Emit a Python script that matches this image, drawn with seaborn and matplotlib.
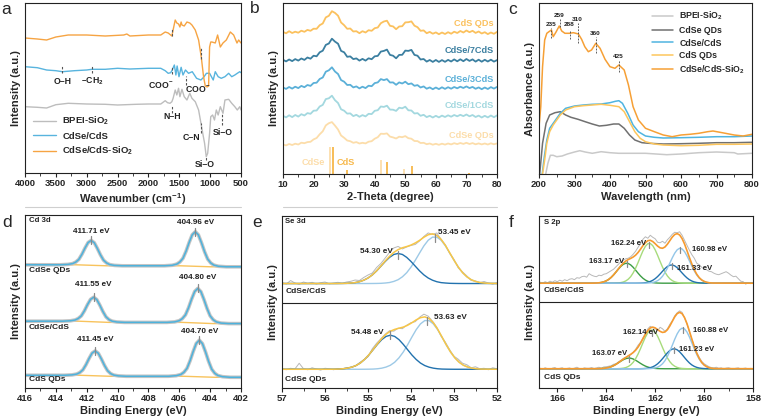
import numpy as np
import matplotlib
matplotlib.use("Agg")
import matplotlib.pyplot as plt
import matplotlib.patheffects as pe
from matplotlib.lines import Line2D
from matplotlib.ticker import MultipleLocator
import seaborn as sns

# ---------------- (a) FTIR ----------------
ftir_wn_bpei = [4000, 3800, 3650, 3500, 3300, 3000, 2700, 2500, 2200, 2000, 1800, 1728, 1690, 1650, 1620, 1600,
                1566, 1540, 1512, 1490, 1457, 1420, 1376, 1330, 1295, 1241, 1187, 1144, 1120, 1090, 1063, 1040,
                1009, 990, 960, 930, 900, 870, 835, 792, 760, 700, 650, 600, 560, 520, 500]
ftir_bpei = [66.3, 65.7, 65, 68.3, 69.7, 69, 68.7, 68, 68.7, 69, 69, 72.3, 70.3, 69.7, 71.3, 74.7,
             83, 78, 84.7, 76.3, 83.7, 76.3, 73, 79.7, 74.7, 71.3, 63, 48, 39.7, 29.7, 16.3, 19.7,
             39.7, 56.3, 58, 53, 63, 58, 66.3, 59.7, 73, 73.7, 69.7, 66.3, 63, 66.3, 63]
ftir_wn_cdse = [4000, 3800, 3650, 3500, 3394, 3200, 3000, 2918, 2700, 2500, 2300, 2000, 1800, 1728, 1680, 1640,
                1620, 1580, 1555, 1535, 1505, 1470, 1440, 1400, 1350, 1290, 1220, 1150, 1106, 1060, 1009, 950,
                917, 870, 820, 760, 700, 650, 600, 560, 520, 500]
ftir_cdse = [106.3, 105.3, 103, 102.3, 101.3, 102.3, 103, 103.7, 103.7, 104.7, 104, 104.7, 104.7, 102.3, 99.7, 100.3,
             102.3, 108, 98, 107, 96.3, 105.7, 98, 103, 99.7, 101.3, 94.7, 93, 95.7, 99.7, 99.7, 93,
             101.3, 96.3, 94.7, 96.3, 99.7, 96.3, 98, 99.7, 101.3, 100.3]
ftir_wn_sio2 = [4000, 3800, 3650, 3500, 3300, 3000, 2700, 2400, 2350, 2300, 2000, 1800, 1728, 1680, 1620, 1590,
                1566, 1540, 1512, 1490, 1470, 1457, 1420, 1376, 1330, 1295, 1241, 1187, 1144, 1106, 1079, 1050,
                1025, 1009, 990, 971, 917, 879, 835, 792, 738, 673, 619, 565, 538, 500]
ftir_sio2 = [135, 134, 133, 136, 138, 138, 137, 138, 139, 137, 138, 138, 141, 140, 137, 146,
             153, 150, 149, 146, 151, 148, 147, 151, 150, 148, 143, 133, 116, 96, 87, 86,
             87, 126, 131, 131, 130, 138, 126, 130, 133, 141, 138, 130, 133, 130]

# ---------------- (b) XRD ----------------
xrd_theta = list(range(10, 81))
xrd_names = ["CdS QDs", "CdSe/7CdS", "CdSe/3CdS", "CdSe/1CdS", "CdSe QDs"]
xrd_cds = [0.8, -0.6, 1.5, -0.3, 1.0, 0.0, 2.0, 0.9, 2.8, 1.9,
           4.0, 3.9, 7.5, 9.2, 15.3, 16.9, 21.5, 19.8, 17.0, 10.2,
           7.5, 3.9, 4.2, 1.2, 1.5, -0.5, 1.5, 0.2, 2.5, 1.9,
           4.5, 5.2, 9.5, 11.2, 12.0, 6.9, 6.3, 3.5, 6.2, 6.5,
           10.3, 10.5, 11.3, 7.0, 5.5, 1.9, 2.3, -0.5, 0.8, -1.0,
           0.3, -1.5, 0.2, -1.3, 0.5, -1.0, 1.0, -0.3, 1.7, 0.2,
           2.2, 0.5, 1.9, -0.2, 1.2, -0.8, 0.5, -1.4, 0.2, -1.1, 0.8]
xrd_7cds = [0.9, -0.7, 1.2, -0.4, 1.6, 0.1, 2.2, 0.8, 3.2, 2.0,
            5.0, 4.4, 8.4, 10.0, 15.8, 17.2, 22.0, 19.1, 17.0, 9.8,
            8.4, 3.9, 4.3, 1.6, 2.3, 0.1, 1.8, 0.1, 2.4, 1.5,
            4.4, 4.8, 9.1, 9.8, 11.1, 5.8, 5.0, 2.4, 5.8, 5.9,
            10.1, 9.8, 10.8, 5.8, 5.0, 1.2, 1.7, -0.9, 0.7, -1.2,
            0.7, -1.2, 0.6, -1.1, 0.8, -0.8, 1.3, -0.6, 1.4, -0.5,
            1.7, -0.2, 1.3, -0.9, 1.0, -1.0, 0.9, -0.8, 1.0, -0.9, 0.6]
xrd_3cds = [0.8, -0.6, 1.3, -0.3, 1.6, 0.2, 2.4, 1.1, 3.3, 2.4,
            5.3, 5.6, 9.3, 10.8, 16.6, 18.0, 21.0, 16.8, 14.3, 8.2,
            6.6, 3.3, 3.5, 0.9, 1.9, -0.1, 1.6, 0.2, 2.6, 2.1,
            5.2, 5.9, 9.2, 8.2, 9.2, 5.8, 5.9, 3.5, 5.9, 4.8,
            6.6, 4.1, 4.9, 2.5, 3.2, 0.8, 1.9, -0.4, 0.9, -0.9,
            0.8, -0.8, 1.0, -0.6, 1.1, -0.4, 1.3, 0.0, 1.6, 0.3,
            1.9, 0.2, 1.4, -0.5, 0.9, -0.9, 0.8, -0.7, 1.2, -0.3, 1.4]
xrd_1cds = [0.9, -0.7, 1.4, -0.4, 1.7, 0.1, 2.5, 1.2, 3.6, 2.9,
            6.0, 6.2, 10.2, 11.8, 17.6, 18.4, 21.0, 16.5, 13.7, 7.4,
            6.0, 3.1, 3.3, 0.6, 1.9, -0.1, 1.6, 0.3, 2.9, 2.6,
            5.9, 6.5, 10.2, 9.8, 11.0, 7.1, 7.0, 5.8, 9.0, 8.4,
            10.0, 6.4, 6.2, 3.2, 3.6, 0.9, 1.9, -0.4, 0.9, -0.8,
            0.9, -0.7, 1.1, -0.3, 1.4, 0.0, 1.7, 0.4, 1.9, 0.6,
            2.2, 0.4, 1.7, -0.3, 1.1, -0.8, 0.9, -0.7, 1.2, -0.5, 1.3]
xrd_cdse = [0.6, -0.4, 1.0, 0.0, 1.3, 0.5, 2.3, 1.8, 2.9, 3.2,
            5.6, 7.0, 10.7, 13.7, 19.6, 21.8, 22.9, 19.4, 15.5, 9.5,
            7.2, 4.5, 3.8, 2.2, 2.9, 1.5, 2.2, 1.6, 3.3, 3.8,
            6.3, 7.8, 11.3, 11.1, 11.6, 8.4, 7.6, 6.5, 8.3, 7.8,
            8.9, 6.8, 6.3, 4.0, 3.9, 2.0, 2.2, 0.8, 1.5, 0.3,
            1.2, 0.2, 1.3, 0.4, 1.5, 0.6, 1.8, 0.9, 2.0, 1.1,
            2.2, 1.0, 1.9, 0.7, 1.6, 0.6, 1.5, 0.5, 1.7, 0.7, 1.6]
ref_cdse_pos = [25.4, 42.0, 49.7]
ref_cdse_int = [26.7, 14, 5.3]
ref_cds_pos = [26.5, 30.8, 43.9, 52.1, 70.8]
ref_cds_int = [26.7, 4, 11.7, 8, 1.3]

# ---------------- (c) UV-vis ----------------
uv_wl_bpei = [219, 225, 232, 240, 250, 265, 280, 300, 315, 330, 350, 375, 400, 425, 500, 560, 600, 650, 700, 750, 760, 800]
uv_bpei = [0, 10.7, 18.7, 18.7, 17.3, 18, 20, 22, 23.3, 22, 20.7, 22.3, 21.3, 20.7, 20.7, 19.3, 20, 21.3, 22, 21.3, 20, 20.7]
uv_wl_cdse = [202, 210, 220, 230, 245, 260, 275, 290, 310, 330, 350, 370, 390, 410, 425, 440, 455, 470, 490, 510,
              550, 600, 650, 700, 750, 800]
uv_cdse = [0, 30.7, 50.7, 59, 61.3, 62.3, 59, 56.7, 54.7, 52.3, 50, 48, 48.7, 50, 50, 45.7, 39, 34, 31.3, 30.7,
           30, 30.3, 30.7, 31.3, 31.3, 31.7]
uv_wl_core = [209, 215, 222, 230, 240, 250, 260, 275, 300, 325, 350, 375, 400, 415, 425, 435, 450, 465, 480, 500,
              525, 550, 600, 650, 700, 750, 800]
uv_core = [0, 17.3, 34, 45.7, 50.7, 55.7, 60.7, 65.7, 68, 69, 69.7, 70, 71.3, 72.7, 73.3, 70.7, 60.7, 49, 42.3, 38,
           36.7, 36, 36.3, 36.7, 37.3, 37.3, 38]
uv_wl_cds = [210, 216, 222, 230, 240, 250, 260, 275, 300, 325, 350, 375, 400, 425, 440, 455, 470, 485, 500, 525,
             550, 600, 650, 700, 750, 800]
uv_cds = [0, 14, 30.7, 42.3, 49, 54, 59, 64, 67.3, 68.3, 69, 69.7, 68.7, 67.3, 62.3, 52.3, 42.3, 35.7, 32.3, 30,
          29, 28.3, 28.7, 29.7, 29.7, 30]
uv_wl_sio2 = [200, 205, 210, 216, 222, 228, 235, 240, 248, 257, 264, 273, 285, 297, 311, 320, 329, 339, 348, 360,
              372, 386, 400, 414, 425, 440, 452, 465, 480, 500, 525, 550, 575, 600, 625, 650, 675, 690, 710, 725,
              750, 775, 800]
uv_sio2 = [47.3, 67.3, 107.3, 134, 140.7, 142.3, 144, 137.3, 142, 148, 143, 140.7, 140.7, 141.3, 140, 134.7, 127.3,
           122.3, 124, 130.7, 125.7, 114.7, 107.3, 105.7, 109, 104, 89, 67.3, 54, 45.7, 42.3, 39, 37.3, 39, 39.7,
           40.7, 42.3, 43, 41.7, 40.7, 39, 38, 39.7]
uv_peaks = [235, 259, 288, 310, 360, 425]

# ---------------- (d) Cd 3d XPS ----------------
cd_names = ["CdSe QDs", "CdSe/CdS", "CdS QDs"]
cd_x = [
    [416, 413.71, 413.21, 412.91, 412.71, 412.51, 412.31, 412.11, 411.91, 411.71, 411.51, 411.31, 411.11, 410.91,
     410.71, 410.51, 410.21, 409.71, 406.96, 406.46, 406.16, 405.96, 405.76, 405.56, 405.36, 405.16, 404.96,
     404.76, 404.56, 404.36, 404.16, 403.96, 403.76, 403.46, 402.96, 402],
    [416, 413.55, 413.05, 412.75, 412.55, 412.35, 412.15, 411.95, 411.75, 411.55, 411.35, 411.15, 410.95, 410.75,
     410.55, 410.35, 410.05, 409.55, 406.8, 406.3, 406.0, 405.8, 405.6, 405.4, 405.2, 405.0, 404.8, 404.6, 404.4,
     404.2, 404.0, 403.8, 403.6, 403.3, 402.8, 402],
    [416, 413.45, 412.95, 412.65, 412.45, 412.25, 412.05, 411.85, 411.65, 411.45, 411.25, 411.05, 410.85, 410.65,
     410.45, 410.25, 409.95, 409.45, 406.7, 406.2, 405.9, 405.7, 405.5, 405.3, 405.1, 404.9, 404.7, 404.5, 404.3,
     404.1, 403.9, 403.7, 403.5, 403.2, 402.7, 402],
]
cd_fit = [
    [123, 123, 123.4, 124.2, 125.7, 128.4, 133.5, 139.7, 145.2, 147.3, 145, 139.3, 132.9, 127.6, 124.8, 123.2,
     122.4, 122, 122, 122.5, 123.7, 125.8, 129.5, 136.6, 145.3, 153, 156, 152.8, 144.9, 136, 128.7, 124.8, 122.7,
     121.5, 121, 121],
    [66.7, 66.7, 67.1, 67.9, 69.4, 72, 77, 83.2, 88.5, 90.6, 88.3, 82.7, 76.3, 71, 68.2, 66.7, 65.9, 65.5,
     65.5, 66, 67.2, 69.3, 73, 80.1, 88.8, 96.4, 99.4, 96.2, 88.3, 79.4, 72, 68.1, 66, 64.8, 64.3, 64.3],
    [12.7, 12.7, 13.1, 13.9, 15.4, 18.1, 23.2, 29.4, 34.9, 37, 34.7, 29, 22.6, 17.3, 14.4, 12.9, 12.1, 11.7,
     11.7, 12.3, 13.5, 15.7, 19.6, 27.2, 36.4, 44.5, 47.7, 44.3, 36, 26.6, 18.8, 14.7, 12.5, 11.3, 10.7, 10.7],
]
cd_bg_x = [[416, 412.7, 410.7, 405.96, 403.96, 402],
           [416, 412.55, 410.55, 405.8, 403.8, 402],
           [416, 412.45, 410.45, 405.7, 403.7, 402]]
cd_bg = [[123, 123, 122, 122, 121, 121],
         [66.7, 66.7, 65.5, 65.5, 64.3, 64.3],
         [12.7, 12.7, 11.7, 11.7, 10.7, 10.7]]
cd_peaks = [[("411.71 eV", 411.71, 147.3, 156.7), ("404.96 eV", 404.96, 156, 165.3)],
            [("411.55 eV", 411.55, 90.6, 103.5), ("404.80 eV", 404.80, 99.4, 110)],
            [("411.45 eV", 411.45, 37, 48.7), ("404.70 eV", 404.70, 47.7, 56.7)]]

# ---------------- (e) Se 3d XPS ----------------
se_x_top = [57.0, 55.8, 55.7, 55.6, 55.5, 55.4, 55.3, 55.2, 55.1, 55.0, 54.9, 54.8, 54.7, 54.6, 54.5, 54.4, 54.3,
            54.2, 54.1, 54.0, 53.9, 53.8, 53.7, 53.6, 53.5, 53.4, 53.3, 53.2, 53.1, 53.0, 52.9, 52.8, 52.7, 52.6,
            52.5, 52.4, 52.3, 52.2, 52.0]
se_x_bot = [57.0, 55.98, 55.88, 55.78, 55.68, 55.58, 55.48, 55.38, 55.28, 55.18, 55.08, 54.98, 54.88, 54.78, 54.68,
            54.58, 54.48, 54.38, 54.28, 54.18, 54.08, 53.98, 53.88, 53.78, 53.68, 53.58, 53.48, 53.38, 53.28, 53.18,
            53.08, 52.98, 52.88, 52.78, 52.68, 52.58, 52.48, 52.38, 52.0]
se_top_hi = [0, 0, 0.03, 0.1, 0.2, 0.5, 0.9, 1.8, 3.3, 5.5, 8.6, 12.6, 17.3, 22.0, 26.1, 29.0, 30.0, 29.0, 26.1,
             22.0, 17.3, 12.6, 8.6, 5.5, 3.3, 1.8, 0.9, 0.5, 0.2, 0.1, 0.03, 0, 0, 0, 0, 0, 0, 0, 0]
se_top_lo = [0, 0, 0, 0, 0, 0, 0, 0, 0, 0, 0.03, 0.08, 0.2, 0.5, 1.0, 2.1, 3.8, 6.7, 10.8, 16.4, 23.2, 30.5, 37.6,
             43.2, 46.3, 46.3, 43.2, 37.6, 30.5, 23.2, 16.4, 10.8, 6.7, 3.8, 2.1, 1.0, 0.5, 0.2, 0.03]
se_bot_hi = [0, 0, 0.03, 0.1, 0.2, 0.5, 1.1, 2.1, 3.7, 6.2, 9.8, 14.3, 19.6, 24.9, 29.6, 32.8, 34.0, 32.8, 29.6,
             24.9, 19.6, 14.3, 9.8, 6.2, 3.7, 2.1, 1.1, 0.5, 0.2, 0.1, 0.03, 0, 0, 0, 0, 0, 0, 0, 0]
se_bot_lo = [0, 0, 0, 0, 0, 0, 0, 0, 0, 0, 0.03, 0.09, 0.2, 0.5, 1.1, 2.2, 4.0, 7.0, 11.4, 17.2, 24.3, 32.1, 39.5,
             45.3, 48.6, 48.6, 45.3, 39.5, 32.1, 24.3, 17.2, 11.4, 7.0, 4.0, 2.2, 1.1, 0.5, 0.2, 0.0]
se_raw_x = np.linspace(57.0, 52.0, 51)
se_raw_top = [1.0, -0.5, 3.0, 0.5, -0.8, 1.5, 0.2, 1.2, -0.5, 0.8, 1.5, -0.3, 0.5, 1.2, 0.3, 1.5, 2.2, 3.5,
              3.0, 6.0, 8.5, 10.5, 16.0, 20.0, 25.5, 31.0, 35.5, 37.0, 34.5, 36.5, 38.0, 39.0, 42.5, 47.0,
              50.5, 49.0, 50.5, 44.0, 38.5, 30.0, 24.0, 15.5, 11.5, 7.5, 3.0, 2.5, 1.0, 2.0, 0.5, -0.5, 0.8]
se_raw_bot = [0.5, -0.5, 1.0, 0.3, 6.0, 0.5, -0.5, 1.5, 0.2, -0.8, 1.0, 0.5, -0.5, 0.8, 0.5, 1.5, 2.0, 3.0,
              6.5, 9.5, 12.5, 20.5, 26, 30.5, 35, 38.5, 38, 41, 40.5, 44, 46.5, 47.5, 52, 55,
              53, 48, 42, 33, 27, 19.5, 13, 10, 6, 4.5, 1.5, 2.5, 0.5, 1.0, -0.5, 1.5, 0.5]

# ---------------- (f) S 2p XPS ----------------
s_x_top = np.linspace(164.6, 159.6, 51)
s_x_bot = np.linspace(164.5, 159.5, 51)
s_top_163 = [0.04, 0.08, 0.18, 0.38, 0.74, 1.36, 2.34, 3.78, 5.8, 8.34, 11.22, 14.22, 16.94, 18.96, 19.94, 19.7,
             18.28, 15.92, 13.04, 10.04, 7.26, 4.92, 3.14, 1.9, 1.08, 0.56, 0.28, 0.12, 0.06] + [0] * 22
s_top_162 = [0] * 10 + [0.12, 0.28, 0.6, 1.2, 2.28, 4.0, 6.56, 10.28, 15.04, 20.64, 26.68, 32.4, 36.92, 39.56,
                        39.8, 37.6, 33.4, 27.88, 21.84, 16.12, 11.12, 7.24, 4.4, 2.56, 1.36, 0.68, 0.32, 0.16,
                        0.06] + [0] * 12
s_top_161 = [0] * 19 + [0.05, 0.11, 0.26, 0.51, 0.99, 1.74, 2.87, 4.5, 6.64, 9.19, 11.93, 14.57, 16.73, 18.03,
                        18.25, 17.35, 15.5, 13.01, 10.27, 7.63, 5.31, 3.46, 2.14, 1.24, 0.68, 0.35, 0.16, 0.07,
                        0.04, 0, 0, 0]
s_top_160 = [0] * 23 + [0.14, 0.35, 0.7, 1.37, 2.52, 4.31, 6.93, 10.57, 15.09, 20.2, 25.41, 30.07, 33.46, 34.97,
                        34.3, 31.64, 27.37, 22.3, 17.05, 12.25, 8.26, 5.22, 3.12, 1.75, 0.91, 0.46, 0.21, 0.11]
s_bot_163 = [0.02, 0.04, 0.1, 0.2, 0.4, 0.73, 1.25, 2.02, 3.1, 4.46, 6.0, 7.61, 9.06, 10.14, 10.67, 10.54, 9.78,
             8.52, 6.98, 5.37, 3.88, 2.63, 1.68, 1.02, 0.58, 0.3, 0.15, 0.06, 0.03] + [0] * 22
s_bot_162 = [0] * 10 + [0.12, 0.27, 0.59, 1.17, 2.22, 3.9, 6.4, 10.02, 14.66, 20.12, 26.01, 31.59, 36.0, 38.57,
                        38.81, 36.66, 32.57, 27.18, 21.29, 15.72, 10.84, 7.06, 4.29, 2.5, 1.33, 0.66, 0.31, 0.16,
                        0.06] + [0] * 12
s_bot_161 = [0] * 19 + [0.06, 0.12, 0.28, 0.56, 1.08, 1.9, 3.14, 4.92, 7.26, 10.04, 13.04, 15.92, 18.28, 19.7,
                        19.94, 18.96, 16.94, 14.22, 11.22, 8.34, 5.8, 3.78, 2.34, 1.36, 0.74, 0.38, 0.18, 0.08,
                        0.04, 0, 0, 0]
s_bot_160 = [0] * 23 + [0.16, 0.41, 0.81, 1.59, 2.93, 5.01, 8.06, 12.29, 17.54, 23.48, 29.55, 34.96, 38.91, 40.66,
                        39.89, 36.79, 31.83, 25.93, 19.82, 14.25, 9.61, 6.06, 3.62, 2.04, 1.06, 0.53, 0.24, 0.12]
s_raw_x = np.linspace(166.7, 158.0, 88)
s_raw_top = [1.0, 0.0, 1.5, 0.5, 2.0, 1.0, 2.5, 1.5, 3.0, 2.0, 3.5, 2.5, 4.0, 4.5, 3.5, 5.5, 5.0, 6.5, 7.0, 6.0,
             9.5, 8.0, 7.0, 6.5, 8.0, 7.5, 9.0, 9.5, 11.0, 12.5, 14.0, 16.5, 19.0, 21.5, 23.0, 24.5, 25.0, 26.5,
             29.0, 32.0, 36.0, 39.5, 44.0, 46.5, 45.0, 48.0, 46.0, 44.5, 41.0, 40.5, 42.0, 40.0, 43.5, 46.0, 49.0,
             51.0, 50.5, 51.5, 48.0, 43.0, 38.0, 33.0, 28.5, 25.0, 20.0, 18.5, 16.0, 14.0, 13.5, 12.0, 11.5, 10.0,
             9.0, 8.5, 9.5, 10.5, 11.5, 10.0, 8.0, 6.5, 7.0, 4.5, 2.0, 1.5, -1.0, 0.5, -0.5, 0.0]
s_raw_bot = [0.5, -0.5, 1.0, 0.0, -0.8, 0.6, 1.2, -0.3, 0.4, 1.0, -0.5, 0.3, 0.8, -0.2, 0.6, 1.5, 0.2, -0.4, 0.9,
             0.5, 0.5, 1.2, 0.3, 0.8, 1.5, 0.6, 1.8, 2.0, 2.5, 3.0, 4.5, 5.0, 7.0, 8.5, 10.5, 11.5, 13.0, 14.0,
             16.5, 19.5, 23.5, 26.5, 31.0, 35.5, 40.0, 42.5, 41.0, 40.5, 38.0, 41.5, 40.0, 37.5, 40.0, 44.5, 48.0,
             53.0, 56.0, 58.0, 56.5, 51.0, 45.0, 37.0, 29.5, 22.5, 16.0, 11.5, 7.5, 5.0, 3.5, 2.0, 1.2, 0.8, 1.5,
             0.4, 0.9, -0.3, 0.6, 1.0, 0.2, -0.2, 0.5, 0.9, -0.4, 0.3, 0.7, -0.2, 0.4, 0.1]

# ---------------- style ----------------
sns.set_theme(style="ticks")
plt.rcParams["font.family"] = ["Liberation Sans", "DejaVu Sans"]
plt.rcParams["font.weight"] = "bold"
plt.rcParams["axes.labelweight"] = "bold"
plt.rcParams["mathtext.fontset"] = "custom"
plt.rcParams["mathtext.rm"] = "Liberation Sans:bold"
plt.rcParams["mathtext.it"] = "Liberation Sans:bold"
plt.rcParams["mathtext.bf"] = "Liberation Sans:bold"
plt.rcParams["mathtext.default"] = "rm"

W, H = 762, 419
fig = plt.figure(figsize=(W / 100, H / 100), dpi=100)
fig.patch.set_facecolor("white")


def panel(l, t, r, b, xlim, ylim, major, minor, xlabel, ylabel):
    ax = fig.add_axes([l / W, 1 - b / H, (r - l) / W, (b - t) / H])
    ax.set_facecolor("white")
    ax.set_xlim(*xlim)
    ax.set_ylim(*ylim)
    ax.xaxis.set_major_locator(MultipleLocator(major))
    ax.xaxis.set_minor_locator(MultipleLocator(minor))
    ax.set_yticks([])
    ax.tick_params(axis="x", which="major", direction="out", length=3, width=0.8, labelsize=6.8, pad=1.5,
                   color="#222222")
    ax.tick_params(axis="x", which="minor", direction="out", length=1.8, width=0.6, color="#222222")
    for s in ax.spines.values():
        s.set_linewidth(0.8)
        s.set_color("#222222")
    ax.set_xlabel(xlabel, fontsize=8, labelpad=2)
    ax.set_ylabel(ylabel, fontsize=8, labelpad=3)
    return ax


def line(ax, x, y, color, lw=1.0, label=None, **kw):
    sns.lineplot(x=np.asarray(x, float), y=np.asarray(y, float), ax=ax, color=color, lw=lw, sort=False,
                 estimator=None, label=label, **kw)


def dash(ax, x, y0, y1, color="#555555", lw=0.8):
    ax.plot([x, x], [y0, y1], color=color, lw=lw, ls=(0, (2.2, 1.5)))


def tick_mark(ax, x, y, half=4, color="#8A8A8A"):
    ax.plot([x, x], [y - half, y + half], color=color, lw=0.9)


def note(ax, x, y, s, size=5.8, ha="center", color="#222222"):
    ax.text(x, y, s, fontsize=size, ha=ha, va="center", color=color, fontweight="bold")


# ---- (a)
ax = panel(25, 3, 241, 173, (4000, 500), (0, 170), 500, 250, "Wavenumber (cm$^{-1}$)", "Intensity (a.u.)")
line(ax, ftir_wn_bpei, ftir_bpei, "#BDBDBD", 1.0, "BPEI-SiO$_2$")
line(ax, ftir_wn_cdse, ftir_cdse, "#58B4DE", 1.0, "CdSe/CdS")
line(ax, ftir_wn_sio2, ftir_sio2, "#F6A443", 1.0, "CdSe/CdS-SiO$_2$")
for x, y0, y1 in [(1620, 137, 145), (1144, 114, 126), (3394, 100, 108), (2918, 100, 108), (1620, 99, 107),
                  (1393, 88, 97), (1620, 60, 67), (1144, 40, 50), (1063, 12.5, 17), (808, 48, 60)]:
    dash(ax, x, y0, y1)
note(ax, 3383, 92, "O–H", size=6.3)
note(ax, 2907, 92, "–CH$_2$", size=6.3)
note(ax, 1809, 87, "COO$^{-}$", size=6.3)
note(ax, 1203, 83.7, "COO$^{-}$", size=6.3)
note(ax, 1614, 56.3, "N–H", size=6.3)
note(ax, 1306, 36, "C–N", size=6.3)
note(ax, 1079, 8.7, "Si–O", size=6.3)
note(ax, 792, 40.7, "Si–O", size=6.3)
ax.legend(loc="lower left", bbox_to_anchor=(0.02, 0.07), frameon=False, fontsize=6.8, handlelength=2.4,
          labelspacing=0.45, borderaxespad=0, handletextpad=0.7)

# ---- (b)
ax = panel(283, 3, 497, 174, (10, 80), (0, 171), 10, 5, "2-Theta (degree)", "Intensity (a.u.)")
xrd_series = [xrd_cds, xrd_7cds, xrd_3cds, xrd_1cds, xrd_cdse]
xrd_colors = ["#FBC15E", "#3B7FA0", "#5BB0D8", "#A3D8DF", "#FCDDAA"]
xrd_offsets = [141.3, 113.3, 85.7, 57.3, 29]
xrd_label_y = [150.7, 123.3, 94, 68, 39]
for name, ys, c, off, ly in zip(xrd_names, xrd_series, xrd_colors, xrd_offsets, xrd_label_y):
    line(ax, xrd_theta, np.asarray(ys) + off, c, 1.3)
    note(ax, 79, ly, name, size=6.6, ha="right", color=c)
ax.vlines(ref_cdse_pos, 0, ref_cdse_int, color="#FCDDAA", lw=1.3)
ax.vlines(ref_cds_pos, 0, ref_cds_int, color="#F7B84A", lw=1.3)
note(ax, 20.0, 11.3, "CdSe", size=6.6, color="#FCDDAA")
note(ax, 30.6, 11.3, "CdS", size=6.6, color="#F7B84A")

# ---- (c)
ax = panel(539, 3, 752, 174, (200, 800), (0, 171), 100, 50, "Wavelength (nm)", "Absorbance (a.u.)")
line(ax, uv_wl_bpei, uv_bpei, "#C9C9C9", 1.1, "BPEI-SiO$_2$")
line(ax, uv_wl_cdse, uv_cdse, "#707070", 1.1, "CdSe QDs")
line(ax, uv_wl_core, uv_core, "#4FB4E0", 1.1, "CdSe/CdS")
line(ax, uv_wl_cds, uv_cds, "#FDC65C", 1.1, "CdS QDs")
line(ax, uv_wl_sio2, uv_sio2, "#F6A036", 1.1, "CdSe/CdS-SiO$_2$")
for wl, ly, y0, y1 in zip(uv_peaks, [150, 158.3, 149, 154.7, 140.7, 118],
                          [136, 147, 134.7, 131, 121, 102], [146, 155, 144, 151, 137, 114]):
    dash(ax, wl, y0, y1, color="#444444", lw=0.6)
    note(ax, wl - 2, ly, str(wl), size=4.6)
ax.legend(loc="upper right", bbox_to_anchor=(1.0, 1.0), frameon=False, fontsize=6.3, handlelength=2.4,
          labelspacing=0.4, borderaxespad=0.4, handletextpad=0.7)

# ---- (d)
ax = panel(25, 215, 241, 388, (416, 402), (0, 172.7), 2, 1, "Binding Energy (eV)", "Intensity (a.u.)")
halo = [pe.Stroke(linewidth=2.6, foreground="#C4C4C4"), pe.Normal()]
for xs, ys, bx, by in zip(cd_x, cd_fit, cd_bg_x, cd_bg):
    line(ax, bx, by, "#F8C35C", 1.0)
    line(ax, xs, ys, "#4DB2DC", 1.1, path_effects=halo)
for pk in cd_peaks:
    for lab, x, y, ly in pk:
        tick_mark(ax, x, y)
        note(ax, x, ly, lab, size=5.9)
note(ax, 415.75, 167.7, "Cd 3d", size=5.6, ha="left")
for name, y in zip(cd_names, [117.7, 60, 8.7]):
    note(ax, 415.75, y, name, size=6.0, ha="left")

# ---- (e)
ax = panel(282, 216, 497, 388, (57, 52), (0, 171.7), 1, 0.5, "Binding Energy (eV)", "Intensity (a.u.)")
ax.axhline(85.3, color="#222222", lw=0.8)
for xs, hi, lo, raw, off in [(se_x_top, se_top_hi, se_top_lo, se_raw_top, 104.3),
                             (se_x_bot, se_bot_hi, se_bot_lo, se_raw_bot, 18.7)]:
    line(ax, se_raw_x, np.asarray(raw) + off, "#B8B8B8", 0.7)
    line(ax, xs, np.asarray(lo) + off, "#9DC9E6", 1.0)
    line(ax, xs, np.asarray(hi) + off, "#2272AE", 1.0)
    line(ax, xs, np.asarray(hi) + np.asarray(lo) + off, "#F8C646", 1.1)
for x, y in [(54.30, 132.5), (53.45, 150), (54.48, 52.5), (53.63, 67)]:
    tick_mark(ax, x, y, color="#8A8A8A")
note(ax, 54.8, 136.7, "54.30 eV", size=5.9)
note(ax, 53.0, 155.3, "53.45 eV", size=5.9)
note(ax, 55.01, 55.3, "54.48 eV", size=5.9)
note(ax, 53.08, 70, "53.63 eV", size=5.9)
note(ax, 56.92, 166, "Se 3d", size=5.6, ha="left")
note(ax, 56.92, 96.7, "CdSe/CdS", size=6.0, ha="left")
note(ax, 56.92, 8.7, "CdSe QDs", size=6.0, ha="left")

# ---- (f)
ax = panel(539, 216, 753, 388, (166.75, 158), (0, 172.3), 2, 1, "Binding Energy (eV)", "Intensity (a.u.)")
ax.axhline(86, color="#222222", lw=0.8)
comp_colors = ["#3C9D45", "#A7DB7C", "#2272AE", "#93C6E8"]
for gx, comps, raw, off in [(s_x_top, [s_top_163, s_top_162, s_top_161, s_top_160], s_raw_top, 105),
                            (s_x_bot, [s_bot_163, s_bot_162, s_bot_161, s_bot_160], s_raw_bot, 19.3)]:
    xx = np.r_[166.75, gx, 158.0]
    line(ax, s_raw_x, np.asarray(raw) + off, "#B8B8B8", 0.7)
    for comp, c in zip(comps, comp_colors):
        line(ax, xx, np.r_[0, comp, 0] + off, c, 1.0)
    env = np.sum([np.r_[0, comp, 0] for comp in comps], axis=0)
    line(ax, xx, env + off, "#F69A2E", 1.2)
for x, y in [(163.17, 124.5), (162.24, 143), (161.33, 122.5), (160.98, 138),
             (163.07, 29.5), (162.14, 55), (161.23, 38), (160.88, 58)]:
    tick_mark(ax, x, y, half=3)
note(ax, 164.0, 126.7, "163.17 eV", size=5.6)
note(ax, 163.07, 144.3, "162.24 eV", size=5.6)
note(ax, 159.76, 139, "160.98 eV", size=5.6)
note(ax, 160.4, 119.3, "161.33 eV", size=5.6)
note(ax, 162.58, 56, "162.14 eV", size=5.6)
note(ax, 159.72, 57.3, "160.88 eV", size=5.6)
note(ax, 163.88, 35, "163.07 eV", size=5.6)
note(ax, 160.32, 38.3, "161.23 eV", size=5.6)
note(ax, 166.55, 166, "S 2p", size=5.6, ha="left")
note(ax, 166.55, 97.3, "CdSe/CdS", size=6.0, ha="left")
note(ax, 166.55, 10.7, "CdS QDs", size=6.0, ha="left")

for a in fig.axes:
    if a.get_legend() is not None and a not in (fig.axes[0], fig.axes[2]):
        a.get_legend().remove()

# separators and panel letters
for x0, x1 in [(25, 241), (283, 497)]:
    fig.add_artist(Line2D([x0 / W, x1 / W], [1 - 207 / H] * 2, color="#CFCFCF", lw=0.8))
for s, x, y in [("a", 1, 14), ("b", 250, 13), ("c", 508, 14), ("d", 2, 227), ("e", 252, 227), ("f", 509, 227)]:
    fig.text(x / W, 1 - y / H, s, fontsize=12.5, fontweight="normal", va="baseline", ha="left")

fig.savefig("out.png", dpi=100, facecolor="white")
